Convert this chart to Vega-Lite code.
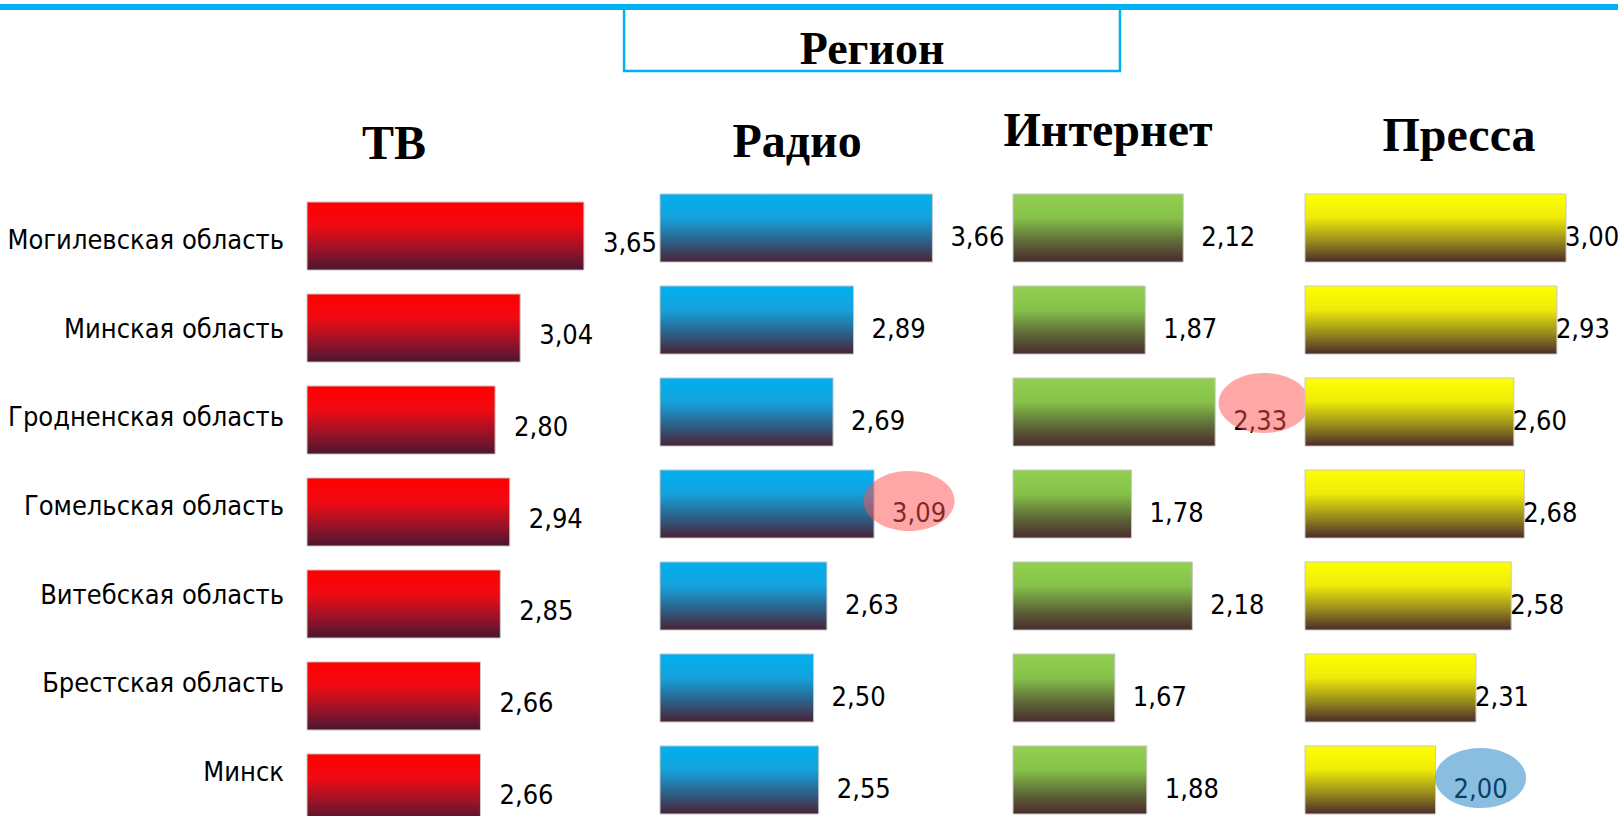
{
  "$schema": "https://vega.github.io/schema/vega-lite/v6.json",
  "background": "white",
  "padding": {"left": 0, "top": 4, "right": 0, "bottom": 0},
  "config": {
    "view": {"stroke": null},
    "locale": {"number": {"decimal": ",", "thousands": " ", "grouping": [3], "currency": ["", ""]}}
  },
  "data": {"values": [
    {"region": "Могилевская область", "media": "ТВ", "value": 3.65, "highlight": null},
    {"region": "Минская область", "media": "ТВ", "value": 3.04, "highlight": null},
    {"region": "Гродненская область", "media": "ТВ", "value": 2.80, "highlight": null},
    {"region": "Гомельская область", "media": "ТВ", "value": 2.94, "highlight": null},
    {"region": "Витебская область", "media": "ТВ", "value": 2.85, "highlight": null},
    {"region": "Брестская область", "media": "ТВ", "value": 2.66, "highlight": null},
    {"region": "Минск", "media": "ТВ", "value": 2.66, "highlight": null},
    {"region": "Могилевская область", "media": "Радио", "value": 3.66, "highlight": null},
    {"region": "Минская область", "media": "Радио", "value": 2.89, "highlight": null},
    {"region": "Гродненская область", "media": "Радио", "value": 2.69, "highlight": null},
    {"region": "Гомельская область", "media": "Радио", "value": 3.09, "highlight": "red"},
    {"region": "Витебская область", "media": "Радио", "value": 2.63, "highlight": null},
    {"region": "Брестская область", "media": "Радио", "value": 2.50, "highlight": null},
    {"region": "Минск", "media": "Радио", "value": 2.55, "highlight": null},
    {"region": "Могилевская область", "media": "Интернет", "value": 2.12, "highlight": null},
    {"region": "Минская область", "media": "Интернет", "value": 1.87, "highlight": null},
    {"region": "Гродненская область", "media": "Интернет", "value": 2.33, "highlight": "red"},
    {"region": "Гомельская область", "media": "Интернет", "value": 1.78, "highlight": null},
    {"region": "Витебская область", "media": "Интернет", "value": 2.18, "highlight": null},
    {"region": "Брестская область", "media": "Интернет", "value": 1.67, "highlight": null},
    {"region": "Минск", "media": "Интернет", "value": 1.88, "highlight": null},
    {"region": "Могилевская область", "media": "Пресса", "value": 3.00, "highlight": null},
    {"region": "Минская область", "media": "Пресса", "value": 2.93, "highlight": null},
    {"region": "Гродненская область", "media": "Пресса", "value": 2.60, "highlight": null},
    {"region": "Гомельская область", "media": "Пресса", "value": 2.68, "highlight": null},
    {"region": "Витебская область", "media": "Пресса", "value": 2.58, "highlight": null},
    {"region": "Брестская область", "media": "Пресса", "value": 2.31, "highlight": null},
    {"region": "Минск", "media": "Пресса", "value": 2.00, "highlight": "blue"}
  ]},
  "bounds": "flush",
  "spacing": 123,
  "vconcat": [
    {
      "width": 1618,
      "height": 67,
      "data": {"values": [{"label": "Регион"}]},
      "layer": [
        {
          "mark": {"type": "rect", "color": "#00b0f0", "strokeWidth": 0},
          "encoding": {
            "x": {"datum": 0, "type": "quantitative", "scale": {"domain": [0, 1], "nice": false}, "axis": null},
            "x2": {"datum": 1},
            "y": {"datum": 1, "type": "quantitative", "scale": {"domain": [0, 1], "nice": false}, "axis": null},
            "y2": {"datum": 0.9104}
          }
        },
        {
          "mark": {"type": "rect", "fill": null, "fillOpacity": 0, "stroke": "#00b0f0", "strokeWidth": 2.5},
          "encoding": {
            "x": {"datum": 0.3857, "type": "quantitative"},
            "x2": {"datum": 0.6922},
            "y": {"datum": 0.95, "type": "quantitative"},
            "y2": {"datum": 0}
          }
        },
        {
          "mark": {"type": "text", "font": "Liberation Serif", "fontWeight": "bold", "fontSize": 46, "align": "center", "baseline": "middle", "color": "#000000"},
          "encoding": {
            "x": {"datum": 0.539, "type": "quantitative"},
            "y": {"datum": 0.306, "type": "quantitative"},
            "text": {"field": "label"}
          }
        }
      ]
    },
    {
      "bounds": "flush",
      "spacing": 0,
      "hconcat": [
        {
          "width": 307,
          "height": 620,
          "transform": [{"filter": "datum.media === 'ТВ'"}],
          "mark": {"type": "text", "align": "right", "baseline": "middle", "dx": -23, "dy": 3, "font": "DejaVu Sans Condensed, Liberation Sans, sans-serif", "fontSize": 27, "color": "#000000"},
          "encoding": {
            "y": {"field": "region", "type": "nominal", "sort": null, "axis": null, "scale": {"paddingInner": 0.26, "paddingOuter": 0}},
            "x": {"value": "width"},
            "text": {"field": "region"}
          }
        },
        {
          "width": 353,
          "height": 628,
          "title": {"text": "ТВ", "anchor": "start", "align": "center", "dx": 87, "offset": 0, "dy": 13, "baseline": "alphabetic", "font": "Liberation Serif", "fontWeight": "bold", "fontSize": 48, "color": "#000000", "frame": "group"},
          "transform": [{"filter": "datum.media === 'ТВ'"}],
          "encoding": {
            "y": {"field": "region", "type": "nominal", "sort": null, "axis": null, "scale": {"paddingInner": 0.26, "paddingOuter": 0.0435, "align": 1}}
          },
          "layer": [
            {
              "mark": {"type": "bar", "stroke": "#c8c8c8", "strokeWidth": 1,
                "color": {"gradient": "linear", "x1": 0, "y1": 0, "x2": 0, "y2": 1, "stops": [
                  {"offset": 0, "color": "#ff0000"}, {"offset": 0.35, "color": "#f00a12"}, {"offset": 0.7, "color": "#9a1328"}, {"offset": 1, "color": "#4a1630"}]}},
              "encoding": {
                "x": {"field": "value", "type": "quantitative", "scale": {"domain": [1, 4.378], "nice": false, "zero": false}, "axis": null},
                "x2": {"datum": 1}
              }
            },
            {
              "mark": {"type": "text", "align": "left", "baseline": "middle", "dx": 19, "dy": 8, "font": "DejaVu Sans Condensed, Liberation Sans, sans-serif", "fontSize": 27, "color": "#000000"},
              "encoding": {
                "x": {"field": "value", "type": "quantitative"},
                "text": {"field": "value", "type": "quantitative", "format": ".2f"}
              }
            }
          ]
        },
        {
          "width": 353,
          "height": 620,
          "title": {"text": "Радио", "anchor": "start", "align": "center", "dx": 137, "offset": 0, "dy": 11, "baseline": "alphabetic", "font": "Liberation Serif", "fontWeight": "bold", "fontSize": 48, "color": "#000000", "frame": "group"},
          "transform": [{"filter": "datum.media === 'Радио'"}],
          "encoding": {
            "y": {"field": "region", "type": "nominal", "sort": null, "axis": null, "scale": {"paddingInner": 0.26, "paddingOuter": 0}}
          },
          "layer": [
            {
              "mark": {"type": "bar", "stroke": "#c8c8c8", "strokeWidth": 1,
                "color": {"gradient": "linear", "x1": 0, "y1": 0, "x2": 0, "y2": 1, "stops": [
                  {"offset": 0, "color": "#00b0f0"}, {"offset": 0.35, "color": "#14a2dc"}, {"offset": 0.7, "color": "#2e5f86"}, {"offset": 1, "color": "#4a2236"}]}},
              "encoding": {
                "x": {"field": "value", "type": "quantitative", "scale": {"domain": [1, 4.447], "nice": false, "zero": false}, "axis": null},
                "x2": {"datum": 1}
              }
            },
            {
              "mark": {"type": "text", "align": "left", "baseline": "middle", "dx": 18, "dy": 10, "font": "DejaVu Sans Condensed, Liberation Sans, sans-serif", "fontSize": 27, "color": "#000000"},
              "encoding": {
                "x": {"field": "value", "type": "quantitative"},
                "text": {"field": "value", "type": "quantitative", "format": ".2f"}
              }
            },
            {
              "transform": [{"filter": "datum.highlight != null"}],
              "mark": {"type": "point", "shape": "M-1,0A1,0.66,0,1,1,1,0A1,0.66,0,1,1,-1,0Z", "size": 8281, "filled": true, "opacity": 0.5, "strokeWidth": 0, "xOffset": 35, "yOffset": -3},
              "encoding": {
                "x": {"field": "value", "type": "quantitative"},
                "fill": {"field": "highlight", "type": "nominal", "scale": {"domain": ["red", "blue"], "range": ["#ff5050", "#147dc3"]}, "legend": null}
              }
            }
          ]
        },
        {
          "width": 292,
          "height": 620,
          "title": {"text": "Интернет", "anchor": "start", "align": "center", "dx": 95, "offset": 0, "dy": 0, "baseline": "alphabetic", "font": "Liberation Serif", "fontWeight": "bold", "fontSize": 48, "color": "#000000", "frame": "group"},
          "transform": [{"filter": "datum.media === 'Интернет'"}],
          "encoding": {
            "y": {"field": "region", "type": "nominal", "sort": null, "axis": null, "scale": {"paddingInner": 0.26, "paddingOuter": 0}}
          },
          "layer": [
            {
              "mark": {"type": "bar", "stroke": "#c8c8c8", "strokeWidth": 1,
                "color": {"gradient": "linear", "x1": 0, "y1": 0, "x2": 0, "y2": 1, "stops": [
                  {"offset": 0, "color": "#92d050"}, {"offset": 0.35, "color": "#86c24a"}, {"offset": 0.7, "color": "#5e6a38"}, {"offset": 1, "color": "#4a2a2e"}]}},
              "encoding": {
                "x": {"field": "value", "type": "quantitative", "scale": {"domain": [1, 2.921], "nice": false, "zero": false}, "axis": null},
                "x2": {"datum": 1}
              }
            },
            {
              "mark": {"type": "text", "align": "left", "baseline": "middle", "dx": 18, "dy": 10, "font": "DejaVu Sans Condensed, Liberation Sans, sans-serif", "fontSize": 27, "color": "#000000"},
              "encoding": {
                "x": {"field": "value", "type": "quantitative"},
                "text": {"field": "value", "type": "quantitative", "format": ".2f"}
              }
            },
            {
              "transform": [{"filter": "datum.highlight != null"}],
              "mark": {"type": "point", "shape": "M-1,0A1,0.66,0,1,1,1,0A1,0.66,0,1,1,-1,0Z", "size": 8281, "filled": true, "opacity": 0.5, "strokeWidth": 0, "xOffset": 49, "yOffset": -9},
              "encoding": {
                "x": {"field": "value", "type": "quantitative"},
                "fill": {"field": "highlight", "type": "nominal", "scale": {"domain": ["red", "blue"], "range": ["#ff5050", "#147dc3"]}, "legend": null}
              }
            }
          ]
        },
        {
          "width": 313,
          "height": 620,
          "title": {"text": "Пресса", "anchor": "start", "align": "center", "dx": 154, "offset": 0, "dy": 5, "baseline": "alphabetic", "font": "Liberation Serif", "fontWeight": "bold", "fontSize": 48, "color": "#000000", "frame": "group"},
          "transform": [{"filter": "datum.media === 'Пресса'"}],
          "encoding": {
            "y": {"field": "region", "type": "nominal", "sort": null, "axis": null, "scale": {"paddingInner": 0.26, "paddingOuter": 0}}
          },
          "layer": [
            {
              "mark": {"type": "bar", "stroke": "#c8c8c8", "strokeWidth": 1,
                "color": {"gradient": "linear", "x1": 0, "y1": 0, "x2": 0, "y2": 1, "stops": [
                  {"offset": 0, "color": "#ffff00"}, {"offset": 0.35, "color": "#eeea0a"}, {"offset": 0.7, "color": "#968a1c"}, {"offset": 1, "color": "#4c2a28"}]}},
              "encoding": {
                "x": {"field": "value", "type": "quantitative", "scale": {"domain": [1, 3.398], "nice": false, "zero": false}, "axis": null},
                "x2": {"datum": 1}
              }
            },
            {
              "transform": [{"filter": "datum.highlight == null"}],
              "mark": {"type": "text", "align": "left", "baseline": "middle", "dx": -1, "dy": 10, "font": "DejaVu Sans Condensed, Liberation Sans, sans-serif", "fontSize": 27, "color": "#000000"},
              "encoding": {
                "x": {"field": "value", "type": "quantitative"},
                "text": {"field": "value", "type": "quantitative", "format": ".2f"}
              }
            },
            {
              "transform": [{"filter": "datum.highlight != null"}],
              "mark": {"type": "text", "align": "left", "baseline": "middle", "dx": 18, "dy": 10, "font": "DejaVu Sans Condensed, Liberation Sans, sans-serif", "fontSize": 27, "color": "#000000"},
              "encoding": {
                "x": {"field": "value", "type": "quantitative"},
                "text": {"field": "value", "type": "quantitative", "format": ".2f"}
              }
            },
            {
              "transform": [{"filter": "datum.highlight != null"}],
              "mark": {"type": "point", "shape": "M-1,0A1,0.66,0,1,1,1,0A1,0.66,0,1,1,-1,0Z", "size": 8281, "filled": true, "opacity": 0.5, "strokeWidth": 0, "xOffset": 45, "yOffset": -2},
              "encoding": {
                "x": {"field": "value", "type": "quantitative"},
                "fill": {"field": "highlight", "type": "nominal", "scale": {"domain": ["red", "blue"], "range": ["#ff5050", "#147dc3"]}, "legend": null}
              }
            }
          ]
        }
      ]
    }
  ]
}
